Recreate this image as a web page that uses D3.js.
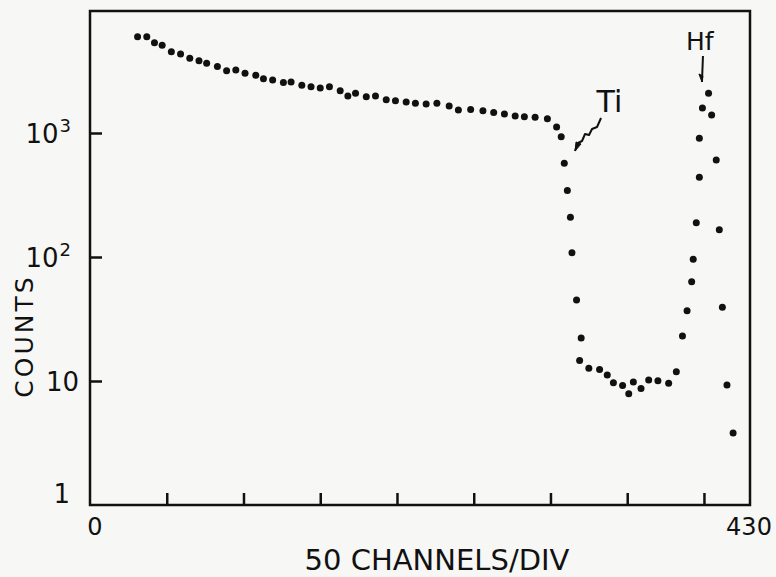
<!DOCTYPE html>
<html>
<head>
<meta charset="utf-8">
<script src="https://cdn.jsdelivr.net/npm/d3@7"></script>
<style>
  body { margin: 0; background: #f7f7f5; }
  text { font-family: "DejaVu Sans", sans-serif; fill: #111; }
</style>
</head>
<body>
<svg id="chart" width="776" height="577"></svg>
<script>
// spectrum: channel number vs counts
var channels = [31, 37, 42, 47, 53, 59, 65, 71, 76, 83, 89, 95, 101, 108, 113, 119, 126, 131, 138, 144,
  150, 156, 163, 168, 173, 180, 186, 193, 199, 206, 212, 219, 226, 234, 240, 248, 256, 263, 270, 277,
  283, 290, 298, 304, 307, 309, 311, 313, 314, 317, 320, 319, 325, 332, 337, 341, 347, 351, 354, 359,
  364, 370, 377, 382, 386, 389, 392, 393, 395, 397, 397, 399, 403, 405, 408, 410, 412, 415, 419];
var counts = [5980, 5980, 5350, 5100, 4530, 4340, 4000, 3830, 3650, 3430, 3180, 3220, 3030, 2920, 2740, 2680, 2550, 2580, 2430, 2360,
  2310, 2360, 2190, 1990, 2090, 1960, 1990, 1850, 1820, 1780, 1740, 1710, 1740, 1650, 1530, 1550, 1510, 1460, 1420, 1370,
  1350, 1340, 1300, 1120, 933, 570, 343, 209, 108, 45, 22.2, 14.6, 12.7, 12.4, 11.2, 9.7, 9.2, 7.9, 9.8, 8.7,
  10.2, 10.05, 9.6, 11.9, 23.1, 36.9, 63.2, 95.8, 189, 439, 906, 1590, 2090, 1400, 606, 166, 39.3, 9.3, 3.8];

var xTicks = [50, 100, 150, 200, 250, 300, 350, 400];
var xEndLabels = [0, 430];
var yTicks = [1, 10, 100, 1000];
var yTickBase = ["1", "10", "10", "10"];
var yTickExp = ["", "", "2", "3"];

// peak labels: text anchor and arrow tip, in channel / counts
var peakNames = ["Ti", "Hf"];
var peakLabelChannel = [330, 388.3];
var peakLabelCounts = [1477, 4670];
var peakTipChannel = [316, 398.7];
var peakTipCounts = [716, 2580];

var svg = d3.select("#chart");
var plotL = 90, plotR = 750, plotT = 11, plotB = 505;

var x = d3.scaleLinear().domain([0, 430]).range([plotL, plotR]);
var y = d3.scaleLog().domain([1, 1e4]).range([plotB, 9]);

// frame
svg.append("rect")
  .attr("x", plotL).attr("y", plotT)
  .attr("width", plotR - plotL).attr("height", plotB - plotT)
  .attr("fill", "none").attr("stroke", "#111").attr("stroke-width", 2.5);

// x ticks (inward)
var gx = svg.append("g")
  .attr("transform", "translate(0," + plotB + ")")
  .call(d3.axisBottom(x).tickValues(xTicks).tickSize(-12).tickFormat(""));
gx.select(".domain").remove();
gx.selectAll(".tick line").attr("stroke", "#111").attr("stroke-width", 2.5);

svg.selectAll(".xend")
  .data(xEndLabels)
  .enter().append("text")
  .attr("class", "xend")
  .attr("x", function(d) { return x(d) + (d === 0 ? 5 : -1); })
  .attr("y", plotB + 30)
  .attr("text-anchor", "middle")
  .attr("font-size", 24)
  .text(function(d) { return d; });

// y ticks (inward)
var gy = svg.append("g")
  .attr("transform", "translate(" + plotL + ",0)")
  .call(d3.axisLeft(y).tickValues(yTicks).tickSize(-12).tickFormat(""));
gy.select(".domain").remove();
gy.selectAll(".tick line")
  .attr("stroke", "#111").attr("stroke-width", 2.5)
  .filter(function(d) { return d === 1; }).remove();

var ylab = svg.selectAll(".ylab")
  .data(yTicks)
  .enter().append("text")
  .attr("class", "ylab")
  .attr("x", function(d, i) { return yTickExp[i] ? plotL - 19 : (d === 1 ? plotL - 20 : plotL - 11); })
  .attr("y", function(d) { return y(d) + (d === 1 ? -2 : 10); })
  .attr("text-anchor", "end")
  .attr("font-size", 26);
ylab.append("tspan").text(function(d, i) { return yTickBase[i]; });
ylab.append("tspan")
  .attr("dy", -11).attr("dx", 1)
  .attr("font-size", 18)
  .text(function(d, i) { return yTickExp[i]; });

// axis titles
svg.append("text")
  .attr("x", 437).attr("y", 570)
  .attr("text-anchor", "middle")
  .attr("font-size", 29)
  .text("50 CHANNELS/DIV");

svg.append("text")
  .attr("transform", "translate(33,336) rotate(-90)")
  .attr("text-anchor", "middle")
  .attr("font-size", 25)
  .attr("letter-spacing", 3)
  .text("COUNTS");

// data points
svg.selectAll(".pt")
  .data(channels)
  .enter().append("circle")
  .attr("class", "pt")
  .attr("cx", function(d) { return x(d); })
  .attr("cy", function(d, i) { return y(counts[i]); })
  .attr("r", 3.5)
  .attr("fill", "#111");

// peak labels
svg.selectAll(".peak")
  .data(peakNames)
  .enter().append("text")
  .attr("class", "peak")
  .attr("x", function(d, i) { return x(peakLabelChannel[i]); })
  .attr("y", function(d, i) { return y(peakLabelCounts[i]); })
  .attr("font-size", function(d) { return d === "Ti" ? 30 : 25; })
  .text(function(d) { return d; });

// Ti: squiggly arrow
var tx = x(peakTipChannel[0]), ty = y(peakTipCounts[0]);
svg.append("path")
  .attr("d", "M" + (tx + 26) + "," + (ty - 33) +
    " L" + (tx + 22) + "," + (ty - 24) +
    " L" + (tx + 17) + "," + (ty - 22) +
    " L" + (tx + 14) + "," + (ty - 16) +
    " L" + (tx + 10) + "," + (ty - 17) +
    " L" + (tx + 7) + "," + (ty - 10) +
    " L" + (tx + 3) + "," + (ty - 8) +
    " L" + tx + "," + ty)
  .attr("fill", "none").attr("stroke", "#111").attr("stroke-width", 2)
  .attr("stroke-linejoin", "round");
svg.append("path")
  .attr("d", "M" + tx + "," + ty + " L" + (tx + 1) + "," + (ty - 9) + " L" + (tx + 6) + "," + (ty - 7) + "Z")
  .attr("fill", "#111").attr("stroke", "#111").attr("stroke-width", 1);

// Hf: straight arrow
var hx = x(peakTipChannel[1]), hy = y(peakTipCounts[1]);
svg.append("path")
  .attr("d", "M" + (hx + 1) + "," + (hy - 26) + " L" + hx + "," + hy)
  .attr("stroke", "#111").attr("stroke-width", 2);
svg.append("path")
  .attr("d", "M" + hx + "," + hy + " L" + (hx - 3) + "," + (hy - 8) + " L" + (hx + 1) + "," + (hy - 6) + "Z")
  .attr("fill", "#111").attr("stroke", "#111").attr("stroke-width", 1);
</script>
</body>
</html>
